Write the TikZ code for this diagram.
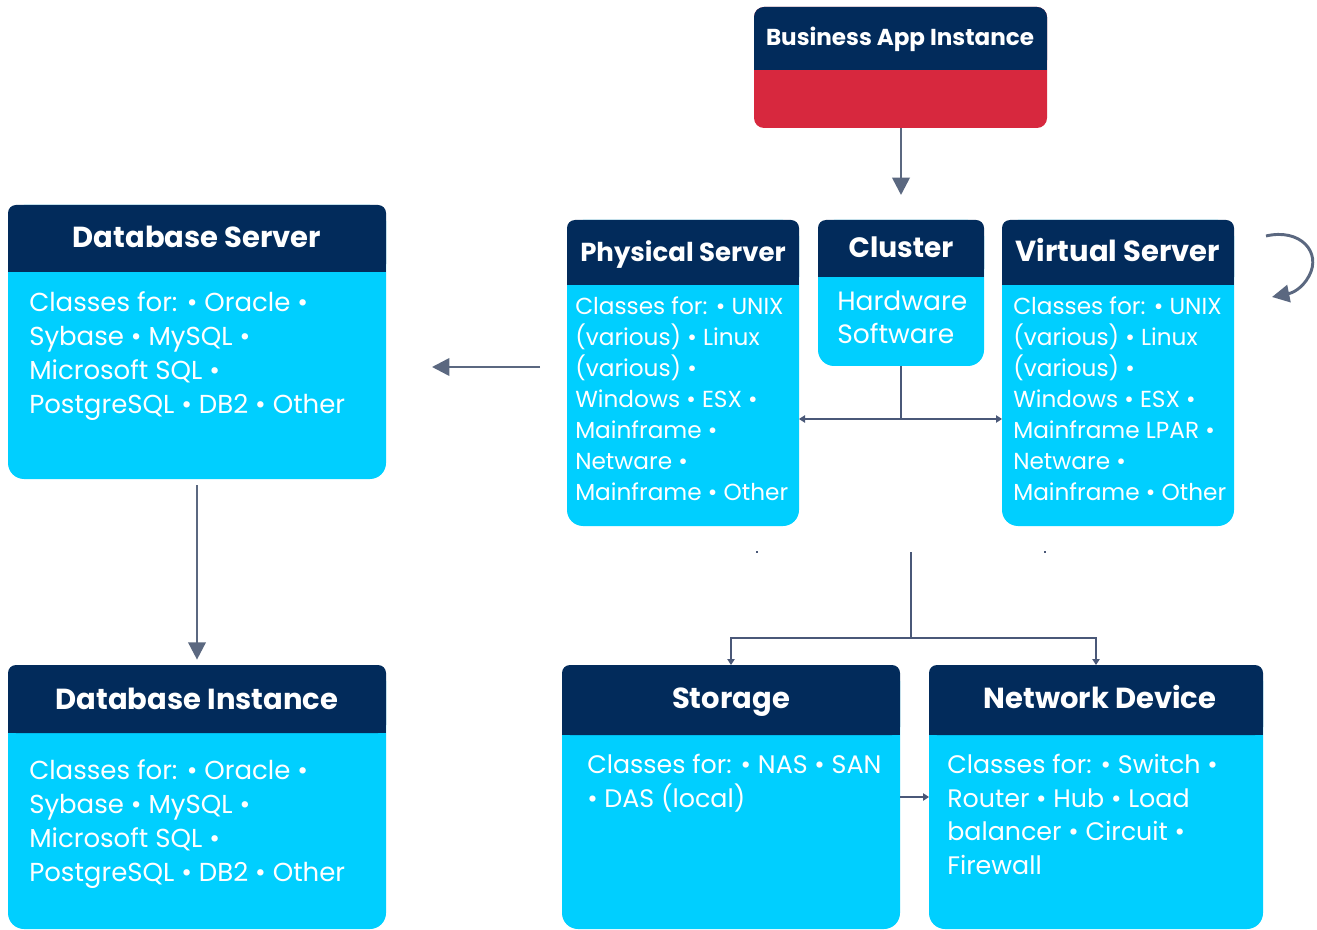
\documentclass[tikz,border=0pt]{standalone}
\usepackage{fontspec}
\setmainfont{Poppins}
\usetikzlibrary{arrows.meta}
\definecolor{navy}{HTML}{022B5B}
\definecolor{cyanb}{HTML}{00CFFF}
\definecolor{redb}{HTML}{D7283E}
\definecolor{agray}{HTML}{5B6880}
\definecolor{lgray}{HTML}{4A5878}
\tikzset{
  boxbody/.style={fill=cyanb, rounded corners=12pt, inner sep=0pt, outer sep=0pt, draw=none},
  hdr/.style={fill=navy},
  txt/.style={anchor=north west, inner sep=0pt, align=left, text=white},
  ttl/.style={anchor=base, inner sep=0pt, text=white, font=\bfseries\fontsize{21.75}{26}\selectfont},
  bigarrow/.style={draw=agray, line width=2pt, -{Triangle[width=13pt,length=13pt]}},
  thinline/.style={draw=lgray, line width=1.5pt},
  thinarrow/.style={thinline, -{Triangle[width=5.5pt,length=4.5pt]}},
}
% name, x1, y1, x2, y2, header bottom
\newcommand\mkbox[6]{%
  \node[boxbody, minimum width={(#4-#2)*0.75pt}, minimum height={(#5-#3)*0.75pt}, anchor=north west] (#1) at (#2,#3) {};
  \fill[hdr, rounded corners=6pt] (#2,#3) rectangle (#4,#6);
  \fill[hdr] (#2,{#3+12}) rectangle (#4,#6);
}
\newcommand\fl{\rule{0pt}{15pt}}
\begin{document}
\begin{tikzpicture}[x=0.75pt,y=-0.75pt]
\useasboundingbox (0,0) rectangle (1317,930);

% Business App Instance
\node[fill=redb, rounded corners=7.5pt, inner sep=0pt, outer sep=0pt, minimum width={293*0.75pt}, minimum height={121*0.75pt}, anchor=north west] (bai) at (754,7) {};
\fill[hdr, rounded corners=7.5pt] (754,7) rectangle (1047,70);
\fill[hdr] (754,20) rectangle (1047,70);
\node[ttl, font=\bfseries\fontsize{17.3}{20}\selectfont] (baiT) at (900,46) {Business App Instance};

% boxes
\mkbox{dbs}{8}{205}{386}{479}{272}
\mkbox{dbi}{8}{665}{386}{929}{733}
\mkbox{ps}{567}{220}{799}{526}{285}
\mkbox{cl}{818}{220}{984}{366}{277}
\mkbox{vs}{1002}{220}{1234}{526}{285}
\mkbox{st}{562}{665}{900}{929}{735}
\mkbox{nd}{929}{665}{1263}{929}{735}

% titles
\node[ttl] (dbsT) at (197,248) {Database Server};
\node[ttl] (dbiT) at (197,709) {Database Instance};
\node[ttl, font=\bfseries\fontsize{19.5}{24}\selectfont] (psT) at (683,262) {Physical Server};
\node[ttl, font=\bfseries\fontsize{21}{24}\selectfont] (clT) at (901,258) {Cluster};
\node[ttl] (vsT) at (1118,262) {Virtual Server};
\node[ttl] (stT) at (731,708) {Storage};
\node[ttl] (ndT) at (1100,708) {Network Device};

% body texts
\node[txt, font=\fontsize{19.5}{25.5}\selectfont] (dbsB) at (29,291)
  {\fl Classes for: • Oracle •\\Sybase • MySQL •\\Microsoft SQL •\\PostgreSQL • DB2 • Other};
\node[txt, font=\fontsize{19.5}{25.5}\selectfont] (dbiB) at (29,759)
  {\fl Classes for: • Oracle •\\Sybase • MySQL •\\Microsoft SQL •\\PostgreSQL • DB2 • Other};
\node[txt, font=\fontsize{17.4}{23.25}\selectfont] (psB) at (575,294)
  {\fl Classes for: • UNIX\\(various) • Linux\\(various) •\\Windows • ESX •\\Mainframe •\\Netware •\\Mainframe • Other};
\node[txt, font=\fontsize{19.9}{24.75}\selectfont] (clB) at (837,290)
  {\fl Hardware\\Software};
\node[txt, font=\fontsize{17.4}{23.25}\selectfont] (vsB) at (1013,294)
  {\fl Classes for: • UNIX\\(various) • Linux\\(various) •\\Windows • ESX •\\Mainframe LPAR •\\Netware •\\Mainframe • Other};
\node[txt, font=\fontsize{19}{25.3}\selectfont] (stB) at (587,753)
  {\fl Classes for: • NAS • SAN\\• DAS (local)};
\node[txt, font=\fontsize{19}{25.3}\selectfont] (ndB) at (947,753)
  {\fl Classes for: • Switch •\\Router • Hub • Load\\balancer • Circuit •\\Firewall};

% connectors
\coordinate (baiEnd) at (901,195);
\draw[bigarrow] (bai.south -| baiEnd) -- (baiEnd);

\coordinate (la1) at (540,367);
\coordinate (la2) at (432,367);
\draw[bigarrow] (la1) -- (la2);

\coordinate (dba) at (197,485);
\draw[bigarrow, shorten >=4pt] (dba) -- (dbi.north);

\coordinate (clJ) at (901,419);
\draw[thinline] (cl.south) -- (clJ);
\draw[thinarrow, {Triangle[width=5.5pt,length=4.5pt]}-{Triangle[width=5.5pt,length=4.5pt]}] (ps.east |- clJ) -- (vs.west |- clJ);

\coordinate (bt) at (911,552);
\coordinate (bj) at (911,638);
\draw[thinline] (bt) -- (bj);
\draw[thinarrow] (bj) -| (st.north);
\draw[thinarrow] (bj) -| (nd.north);

\coordinate (snY) at (0,797);
\draw[thinarrow] (st.east |- snY) -- (nd.west |- snY);

% loop arrow
\coordinate (lp1) at (1266,236);
\coordinate (lp2) at (1272,297);
\draw[bigarrow, line width=2.2pt] (lp1) .. controls (1300,228) and (1322,252) .. (1309,276) .. controls (1302,289) and (1292,293) .. (lp2);

% specks
\fill[lgray] (756,551) rectangle (758,553);
\fill[lgray] (1044,551) rectangle (1046,553);
\end{tikzpicture}
\end{document}
